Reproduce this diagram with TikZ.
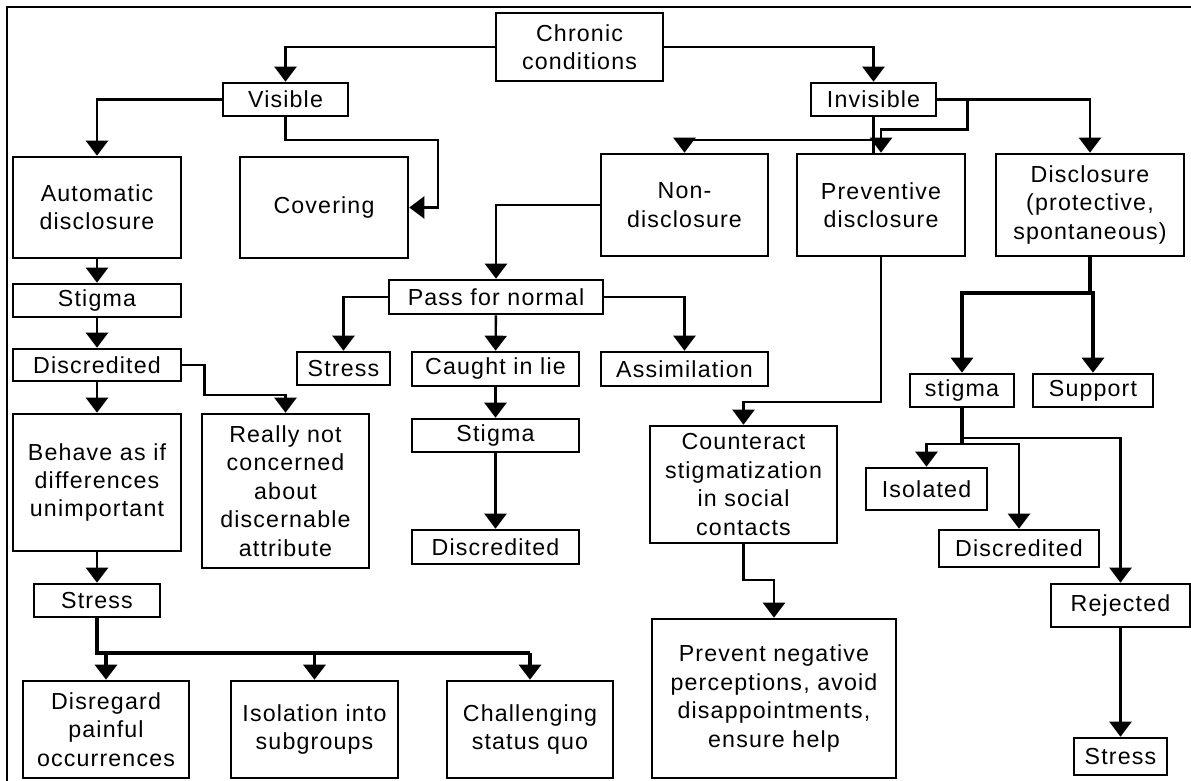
\documentclass[tikz,border=0pt]{standalone}
\usepackage{fontspec}
\setmainfont{Liberation Sans}[LetterSpace=5]
\usetikzlibrary{arrows.meta}

\begin{document}
\begin{tikzpicture}[
					x=0.5pt, y=-0.5pt,
					box/.style={rectangle, draw=black, line width=1.3pt, inner sep=0pt, align=center, font=\fontsize{11.6}{14.2}\selectfont},
					sz/.style 2 args={minimum width=#1*0.5pt, minimum height=#2*0.5pt},
					link/.style={line width=1.2pt},
					arrow/.style={-{Triangle[width=11pt,length=7.5pt]}, line width=1.2pt},
					thickarrow/.style={arrow, line width=1.6pt}
					]
					\useasboundingbox (0,0) rectangle (1191,781);
					\draw [line width=1.4pt] (7,800) -- (7,7) -- (1210,7);
					
					% top levels
					\node (chronic) [box, sz={167}{68}] at (579.5,47) {Chronic\\conditions};
					\node (visible) [box, sz={125}{33}] at (285.5,99.5) {Visible};
					\node (invisible) [box, sz={125}{33}] at (873.5,99.5) {Invisible};
					
					\node (automatic) [box, sz={168}{101}] at (97,207.5) {Automatic\\disclosure};
					\node (covering) [box, sz={168}{101}] at (324,207.5) {Covering};
					\node (nondisc) [box, sz={167}{102}] at (684.5,205) {Non-\\disclosure};
					\node (prevent) [box, sz={168}{102}] at (881,205) {Preventive\\disclosure};
					\node (disclosure) [box, sz={188}{102}] at (1090,205) {Disclosure\\(protective,\\spontaneous)};
					
					% visible branch
					\node (stigmaA) [box, sz={168}{33}] at (97,300.5) {Stigma};
					\node (discA) [box, sz={168}{32}] at (97,365) {Discredited};
					\node (behave) [box, sz={168}{137}] at (97,482.5) {Behave as if\\differences\\unimportant};
					\node (really) [box, sz={167}{154}] at (285.5,491) {Really not\\concerned\\about\\discernable\\attribute};
					\node (stressA) [box, sz={126}{33}] at (97,600.5) {Stress};
					\node (disregard) [box, sz={166}{97}] at (106,729.5) {Disregard\\painful\\occurrences};
					\node (isolation) [box, sz={167}{97}] at (314.5,729.5) {Isolation into\\subgroups};
					\node (challenge) [box, sz={166}{97}] at (530,729.5) {Challenging\\status quo};
					
					% non-disclosure branch
					\node (pass) [box, sz={214}{34}] at (496,297) {Pass for normal};
					\node (stressB) [box, sz={93}{33}] at (343.5,368.5) {Stress};
					\node (caught) [box, sz={167}{34}] at (495.5,369) {Caught in lie};
					\node (assim) [box, sz={167}{34}] at (684.5,369) {Assimilation};
					\node (stigmaB) [box, sz={167}{33}] at (495.5,435.5) {Stigma};
					\node (discB) [box, sz={167}{34}] at (495.5,547) {Discredited};
					
					% preventive branch
					\node (counter) [box, sz={187}{117}] at (743.5,484.5) {Counteract\\stigmatization\\in social\\contacts};
					\node (preventneg) [box, sz={244}{159}] at (774,698.5) {Prevent negative\\perceptions, avoid\\disappointments,\\ensure help};
					
					% disclosure branch
					\node (stigmaR) [box, sz={104}{33}] at (962,390.5) {stigma};
					\node (support) [box, sz={120}{33}] at (1093,390.5) {Support};
					\node (isolated) [box, sz={121}{42}] at (926.5,489) {Isolated};
					\node (discR) [box, sz={160}{37}] at (1019,548.5) {Discredited};
					\node (rejected) [box, sz={139}{43}] at (1120.5,605.5) {Rejected};
					\node (stressR) [box, sz={93}{37}] at (1120.5,756.5) {Stress};
					
					\coordinate (sbus) at (97,653);
					\coordinate (dbus) at (1090,293);
					\coordinate (rbus) at (962,438);
					\coordinate (ibus) at (962,444);
					
					\draw [arrow] (chronic.west) -| (visible.north);
					\draw [arrow] (chronic.east) -| (invisible.north);
					\draw [arrow] (visible.west) -| (automatic.north);
					\draw [arrow] (visible.south) -- ++(0,23) -- ++(152.5,0) |- (covering.east);
					\draw [arrow] (invisible.south) -- ++(0,23) -| (nondisc.north);
					\draw [link] (invisible.south) -- (invisible.south |- prevent.north);
					\draw [arrow] (invisible.east) -- ++(30,0) -- ++(0,30) -| (prevent.north);
					\draw [arrow] (invisible.east) -| (disclosure.north);
					
					\draw [arrow] (automatic) -- (stigmaA);
					\draw [arrow] (stigmaA) -- (discA);
					\draw [arrow] (discA) -- (behave);
					\draw [arrow] (discA.east) -- ++(22,0) -- ++(0,30) -| (really.north);
					\draw [arrow] (behave) -- (stressA);
					\draw [link, line width=1.6pt] (stressA.south) -- (sbus) -- (sbus -| challenge.north);
					\foreach \n in {disregard, isolation, challenge}
						\draw [thickarrow] (sbus -| \n.north) -- (\n.north);
					
					\draw [arrow] (nondisc.west) -| (pass.north);
					\draw [arrow] (pass.west) -| (stressB.north);
					\draw [arrow] (pass.east) -| (assim.north);
					\draw [arrow] (pass) -- (caught);
					\draw [arrow] (caught) -- (stigmaB);
					\draw [arrow] (stigmaB) -- (discB);
					
					\draw [arrow] (prevent.south) -- ++(0,145) -| (counter.north);
					\draw [arrow] (counter.south) -- ++(0,35.5) -| (preventneg.north);
					
					\draw [link, line width=1.6pt] (disclosure.south) -- (dbus);
					\draw [thickarrow] (dbus) -| (stigmaR.north);
					\draw [thickarrow] (dbus) -| (support.north);
					\draw [link, line width=1.6pt] (stigmaR.south) -- (ibus);
					\draw [arrow] (rbus) -| (rejected.north);
					\draw [arrow] (ibus) -| (isolated.north);
					\draw [arrow] (ibus) -| (discR.north);
					\draw [arrow] (rejected) -- (stressR);
				\end{tikzpicture}
\end{document}
